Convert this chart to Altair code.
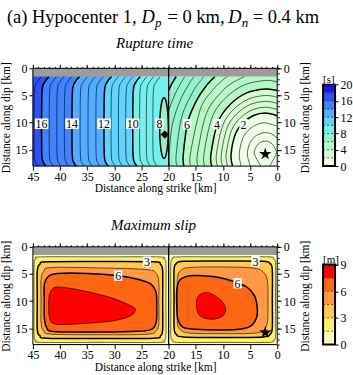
import altair as alt
import pandas as pd

FONT = "Liberation Serif"
W, H = 245, 98
P1 = (32, 67)    # image position of top panel view (for annotations)
P2 = (32, 248)   # image position of bottom panel view
CB_LEFT = 323 - 32   # colour bar left edge, relative to the panel view
CB_W = 12
STAR_PATH = ("M0,-1L0.225,-0.309L0.951,-0.309L0.363,0.118L0.588,0.809L0,0.382"
             "L-0.588,0.809L-0.363,0.118L-0.951,-0.309L-0.225,-0.309Z")

# ---------------- data ----------------
RT_EDGES = [0, 2, 4, 6, 8, 10, 12, 14, 16, 18, 20]
RT_COLORS = ["#f0ffe8", "#d6fcd2", "#b6f8c6", "#94f2cc", "#76f0ec",
             "#62d4fc", "#52acff", "#4282ff", "#3050f5", "#1818e8"]
SLIP_EDGES = [0, 1.5, 3, 4.5, 6, 7.5, 9]
SLIP_COLORS = ["#ffffc0", "#fff06a", "#ffc855", "#ff9945", "#ff6614", "#ff0000"]

HYPO = (2.2, 15.8)      # star (strike km, dip km)
JUMP = (20.7, 12.2)     # diamond
SEG_X = 20
FAULT_TOP = 1.5

RT_LEFT_DIPS = [1.5, 2.5, 4.0, 10.0, 16.0, 17.4, 18.0]
RT_LEFT = {
    8.5: [21.5, 22.3, 22.8, 22.9, 22.85, 22.55, 22.1],
    9.0: [22.7, 23.5, 24.0, 24.1, 24.05, 23.75, 23.3],
    9.5: [23.95, 24.75, 25.25, 25.35, 25.3, 25.0, 24.55],
    10.0: [25.2, 26.0, 26.5, 26.6, 26.55, 26.25, 25.8],
    10.5: [26.5, 27.3, 27.8, 27.9, 27.85, 27.55, 27.1],
    11.0: [27.85, 28.65, 29.15, 29.25, 29.2, 28.9, 28.45],
    11.5: [29.2, 30.0, 30.5, 30.6, 30.55, 30.25, 29.8],
    12.0: [30.5, 31.3, 31.8, 31.9, 31.85, 31.55, 31.1],
    12.5: [32.0, 32.8, 33.3, 33.4, 33.35, 33.05, 32.6],
    13.0: [33.45, 34.25, 34.75, 34.85, 34.8, 34.5, 34.05],
    13.5: [34.9, 35.7, 36.2, 36.3, 36.25, 35.95, 35.5],
    14.0: [36.4, 37.2, 37.7, 37.8, 37.75, 37.45, 37.0],
    14.5: [37.8, 38.6, 39.1, 39.2, 39.15, 38.85, 38.4],
    15.0: [39.2, 40.0, 40.5, 40.6, 40.55, 40.25, 39.8],
    15.5: [40.6, 41.4, 41.9, 42.0, 41.95, 41.65, 41.2],
    16.0: [42.0, 42.8, 43.3, 43.4, 43.35, 43.05, 42.6],
    16.5: [43.4, 44.2, 44.7, 44.8, 44.75, 44.45, 44.0],
}
RT_LOOP_8 = [(21.65, 11.0), (21.54, 13.8), (21.25, 15.85), (20.85, 16.6), (20.45, 15.85),
             (20.16, 13.8), (20.05, 11.0), (20.16, 8.2), (20.45, 6.15), (20.85, 5.4),
             (21.25, 6.15), (21.54, 8.2)]
RT_RIGHT = {
    0.5: [(3.0, 18), (4.2, 15.8), (3.93, 14.6), (3.49, 13.96), (2.88, 13.54), (2.2, 13.4),
          (1.52, 13.54), (0.91, 13.96), (0.47, 14.6), (0.2, 15.8), (1.4, 18)],
    1.0: [(4.94, 18), (5.5, 15.8), (5.06, 13.82), (4.32, 12.77), (3.33, 12.08), (2.2, 11.84),
          (1.07, 12.08), (0, 12.85)],
    1.5: [(6.64, 18), (7.0, 15.8), (6.36, 12.92), (5.29, 11.39), (3.84, 10.39), (2.2, 10.04), (0, 10.68)],
    2.0: [(8.23, 18), (8.5, 15.8), (7.66, 12.02), (6.25, 10.01), (4.35, 8.69), (2.2, 8.24), (0, 8.72)],
    2.5: [(9.16, 18), (9.4, 15.8), (8.44, 11.48), (6.83, 9.18), (4.66, 7.68), (2.2, 7.16), (0, 7.57)],
    3.0: [(10.09, 18), (10.3, 15.8), (9.21, 10.94), (7.41, 8.35), (4.97, 6.66), (2.2, 6.08), (0, 6.45)],
    3.5: [(11.01, 18), (11.2, 15.8), (9.99, 10.4), (7.99, 7.53), (5.28, 5.65), (2.2, 5.0), (0, 5.33)],
    4.0: [(12.03, 18), (12.2, 15.8), (10.86, 9.8), (8.63, 6.61), (5.62, 4.52), (2.2, 3.8), (0, 4.09)],
    4.5: [(13.35, 18), (13.5, 15.8), (11.99, 9.02), (9.47, 5.41), (6.06, 3.05), (2.2, 2.24), (0, 2.5)],
    5.0: [(14.56, 18), (14.7, 15.8), (13.03, 8.3), (10.24, 4.31), (8.06, 2.55), (5.97, 1.5)],
    5.5: [(15.88, 18), (16.0, 15.8), (14.15, 7.52), (11.96, 4.09), (10.12, 2.24), (9.16, 1.5)],
    6.0: [(17.19, 18), (17.3, 15.8), (16.39, 9.6), (14.57, 5.4), (12.88, 2.99), (11.47, 1.5)],
    6.5: [(18.5, 18), (18.6, 15.8), (17.62, 9.07), (15.63, 4.5), (14.39, 2.63), (13.47, 1.5)],
    7.0: [(19.8, 18), (19.9, 15.8), (19.3, 10.3), (17.83, 5.84), (16.15, 2.72), (15.29, 1.5)],
    7.5: [(20, 7.84), (19.4, 6.16), (18.65, 4.4), (17.76, 2.71), (17.0, 1.5)],
    8.0: [(20, 4.1), (19.4, 2.8), (18.6, 1.5)],
}
RT_LABELS = [("16", 43.4, 10.2), ("14", 37.8, 10.2), ("12", 31.9, 10.2), ("10", 26.6, 10.2),
             ("8", 21.7, 10.2), ("6", 16.6, 10.3), ("4", 11.1, 10.3), ("2", 6.2, 10.3)]

SLIP_LEFT = {
    1.5: [(44.8, 3.2), (44.4, 2.2), (43.5, 1.85), (32.5, 1.85), (21.8, 1.85), (20.9, 2.2), (20.5, 3.2),
          (20.5, 10.0), (20.5, 16.3), (20.9, 17.2), (21.8, 17.6), (32.5, 17.6), (43.5, 17.6),
          (44.4, 17.2), (44.8, 16.3), (44.8, 10.0)],
    3.0: [(44.2, 4.5), (43.7, 3.2), (42.4, 2.75), (32.5, 2.7), (22.8, 2.75), (21.5, 3.2), (21.1, 4.5),
          (21.1, 10.0), (21.1, 15.2), (21.5, 16.4), (22.8, 16.85), (32.5, 16.9), (42.4, 16.85),
          (43.7, 16.4), (44.2, 15.2), (44.2, 10.0)],
    4.5: [(43.5, 6.0), (43.0, 4.5), (41.5, 3.8), (32.0, 3.9), (24.0, 4.2), (22.3, 4.9), (21.8, 6.5),
          (21.8, 10.0), (21.8, 14.0), (22.3, 15.5), (24.0, 16.1), (32.0, 16.2), (41.5, 16.1),
          (43.0, 15.5), (43.5, 14.0), (43.5, 10.0)],
    6.0: [(42.9, 7.0), (42.2, 5.5), (40.5, 4.9), (35.0, 4.9), (29.5, 5.3), (25.5, 6.0), (23.2, 6.9),
          (22.3, 8.5), (22.2, 11.0), (22.3, 13.9), (23.4, 15.3), (27.0, 15.6), (35.0, 15.7),
          (41.3, 15.6), (42.5, 14.8), (42.9, 13.0), (42.9, 10.0)],
    7.5: [(42.1, 10.8), (41.9, 8.6), (40.9, 7.45), (38.5, 7.6), (35.7, 8.1), (30.8, 9.3), (27.1, 10.8),
          (26.1, 11.6), (27.0, 12.7), (29.5, 13.5), (32.6, 13.9), (38.7, 14.3), (41.3, 14.1),
          (42.0, 12.8)],
}
SLIP_RIGHT = {
    1.5: [(19.6, 3.2), (19.2, 2.2), (18.3, 1.85), (10.0, 1.85), (1.6, 1.85), (0.7, 2.2), (0.3, 3.2),
          (0.3, 10.0), (0.3, 16.3), (0.7, 17.2), (1.6, 17.6), (10.0, 17.6), (18.3, 17.6),
          (19.2, 17.2), (19.6, 16.3), (19.6, 10.0)],
    3.0: [(19.0, 4.3), (18.6, 3.1), (17.3, 2.65), (10.0, 2.6), (2.6, 2.65), (1.3, 3.1), (0.9, 4.3),
          (0.9, 10.0), (0.9, 14.9), (1.3, 16.1), (2.6, 16.6), (10.0, 16.7), (17.3, 16.6),
          (18.6, 16.1), (19.0, 14.9), (19.0, 10.0)],
    4.5: [(18.4, 6.0), (17.8, 4.4), (16.0, 3.8), (10.0, 3.7), (4.5, 3.9), (2.6, 4.6), (1.8, 6.3),
          (1.7, 10.0), (1.8, 13.8), (2.5, 15.3), (4.2, 15.9), (10.0, 16.0), (16.0, 15.9),
          (17.8, 15.3), (18.4, 14.0), (18.4, 10.0)],
    6.0: [(18.5, 8.0), (18.0, 6.2), (16.5, 5.4), (14.8, 5.3), (11.0, 5.6), (8.0, 6.4), (5.6, 7.4),
          (4.2, 9.0), (3.7, 11.0), (3.8, 13.0), (4.9, 14.6), (7.0, 15.2), (10.5, 15.3), (15.0, 15.2),
          (17.4, 14.8), (18.3, 13.3), (18.5, 11.0)],
    7.5: [(13.0, 8.4), (11.5, 9.0), (10.2, 10.0), (9.5, 11.4), (10.0, 12.7), (11.5, 13.3),
          (13.2, 13.2), (14.5, 12.4), (14.9, 10.6), (14.5, 9.0)],
}
SLIP_LABELS = [("3", 24.0, 2.75), ("6", 29.3, 5.3), ("3", 4.0, 2.65), ("6", 7.3, 6.7)]

TITLE_PIECES = [("(a) Hypocenter 1,", 6, 22, 18.5, "normal"), ("D", 141, 22, 18.5, "italic"),
                ("p", 154.5, 26, 13, "italic"), ("= 0 km,", 167, 22, 18.5, "normal"),
                ("D", 228, 22, 18.5, "italic"), ("n", 241.5, 26, 13, "italic"),
                ("= 0.4 km", 252.5, 22, 18.5, "normal")]

# ---------------- helpers ----------------
XS = alt.Scale(domain=[45, 0], nice=False, zero=False)
YS = alt.Scale(domain=[18, 0], nice=False, zero=False)
ONE = pd.DataFrame({"k": [0]})


def X(f, axis=None):
    return alt.X(f, type="quantitative", scale=XS, axis=axis)


def Y(f, axis=None):
    return alt.Y(f, type="quantitative", scale=YS, axis=axis)


def rects(rows):
    df = pd.DataFrame(rows, columns=["x0", "x1", "y0", "y1", "c"])
    return alt.Chart(df).mark_rect(clip=True).encode(
        x=X("x0"), x2="x1", y=Y("y0"), y2="y1", color=alt.Color("c:N", scale=None))


def polys(list_of_pts, color, interp):
    rows = []
    for g, pts in enumerate(list_of_pts):
        for i, (x, y) in enumerate(pts):
            rows.append({"g": g, "i": i, "x": x, "y": y})
    return alt.Chart(pd.DataFrame(rows)).mark_line(
        fill=color, strokeOpacity=0, interpolate=interp, clip=True
    ).encode(x=X("x"), y=Y("y"), detail="g:N", order="i:Q")


def lines(curves, interp):
    rows = []
    for g, (pts, w) in enumerate(curves):
        for i, (x, y) in enumerate(pts):
            rows.append({"g": g, "i": i, "x": x, "y": y, "w": w})
    return alt.Chart(pd.DataFrame(rows)).mark_line(
        color="black", interpolate=interp, clip=True
    ).encode(x=X("x"), y=Y("y"), detail="g:N", order="i:Q",
             strokeWidth=alt.StrokeWidth("w:Q", scale=None))


def label_layers(labels):
    df = pd.DataFrame(labels, columns=["t", "x", "y"])
    out = []
    two = df[df["t"].str.len() == 2]
    one = df[df["t"].str.len() == 1]
    if len(two):
        out.append(alt.Chart(two).mark_point(shape="M-1.3,-1H1.3V1H-1.3Z", filled=True, color="white",
                                             opacity=1, size=110).encode(x=X("x"), y=Y("y")))
    if len(one):
        out.append(alt.Chart(one).mark_point(shape="M-0.8,-1H0.8V1H-0.8Z", filled=True, color="white",
                                             opacity=1, size=110).encode(x=X("x"), y=Y("y")))
    out.append(alt.Chart(df).mark_text(font=FONT, fontSize=12, color="black", baseline="middle", dy=0.5)
               .encode(x=X("x"), y=Y("y"), text="t:N"))
    return out


def text_at(txt, px, py, size, style, origin, align="left"):
    return alt.Chart(ONE).mark_text(text=txt, font=FONT, fontSize=size, fontStyle=style, align=align,
                                    baseline="alphabetic", color="black").encode(
        x=alt.value(px - origin[0]), y=alt.value(py - origin[1]))


COMMON_AX = dict(grid=False, domain=False, tickColor="black", labelColor="black", labelFont=FONT,
                 labelFontSize=12, titleFont=FONT, titleFontSize=11.5, titleFontWeight="normal",
                 titleColor="black", labelOverlap=False, labelFlush=False)
AX_DF = pd.DataFrame({"x": [0.0], "y": [0.0]})


def axis_layers():
    ax_b = alt.Axis(orient="bottom", values=list(range(0, 46, 5)), tickSize=4, labelPadding=1,
                    title="Distance along strike [km]", titlePadding=1, **COMMON_AX)
    ax_l = alt.Axis(orient="left", values=[0, 5, 10, 15], tickSize=4, labelPadding=2,
                    title="Distance along dip [km]", titlePadding=3, **COMMON_AX)
    ax_t = alt.Axis(orient="top", values=list(range(0, 46)), tickSize=2, labels=False, title=None, **COMMON_AX)
    ax_r = alt.Axis(orient="right", values=[0, 5, 10, 15], tickSize=4, labelPadding=2,
                    title="Distance along dip [km]", titleAngle=270, titleBaseline="top",
                    titlePadding=4, **COMMON_AX)
    ax_t2 = alt.Axis(orient="top", values=list(range(0, 46, 5)), tickSize=4, labels=False, title=None, **COMMON_AX)
    ax_r2 = alt.Axis(orient="right", values=list(range(0, 19)), tickSize=2, labels=False, title=None, **COMMON_AX)
    base = alt.Chart(AX_DF).mark_point(opacity=0)
    return [base.encode(x=X("x", ax_b), y=Y("y", ax_l)),
            base.encode(x=X("x", ax_t), y=Y("y", ax_r)),
            base.encode(x=X("x", ax_t2), y=Y("y", ax_r2))]


def frame_layers():
    gray = rects([(0, 45, 0, FAULT_TOP, "#9c9c9c")])
    seg = alt.Chart(pd.DataFrame({"x": [SEG_X], "y0": [0], "y1": [18]})).mark_rule(
        color="black", strokeWidth=1.3).encode(x=X("x"), y=Y("y0"), y2="y1")
    frame = alt.Chart(pd.DataFrame({"x0": [0], "x1": [45], "y0": [0], "y1": [18]})).mark_rect(
        filled=False, stroke="black", strokeWidth=1).encode(x=X("x0"), x2="x1", y=Y("y0"), y2="y1")
    return [gray, seg, frame]


def star():
    return alt.Chart(pd.DataFrame({"x": [HYPO[0]], "y": [HYPO[1]]})).mark_point(
        shape=STAR_PATH, filled=True, color="black", opacity=1, size=170).encode(x=X("x"), y=Y("y"))


def colorbar_layers(edges, colors, ticks, unit, dmax):
    cs = alt.Scale(domain=[0, dmax], nice=False, zero=False)
    df = pd.DataFrame({"lo": edges[:-1], "hi": edges[1:], "c": colors})
    ax = alt.Axis(orient="right", values=ticks, tickSize=3, labelPadding=2, title=None, format="~g",
                  offset=CB_LEFT + CB_W - W,
                  **{k: v for k, v in COMMON_AX.items() if not k.startswith("title")})
    bars = alt.Chart(df).mark_rect().encode(
        x=alt.value(CB_LEFT), x2=alt.value(CB_LEFT + CB_W), y=alt.Y("lo:Q", scale=cs, axis=ax), y2="hi:Q",
        color=alt.Color("c:N", scale=None))
    dashes = alt.Chart(pd.DataFrame({"b": edges[1:-1]})).mark_rule(
        color="black", strokeDash=[2, 2], strokeWidth=0.6).encode(
        x=alt.value(CB_LEFT), x2=alt.value(CB_LEFT + CB_W), y=alt.Y("b:Q", scale=cs, axis=None))
    border = alt.Chart(pd.DataFrame({"lo": [0], "hi": [edges[-1]]})).mark_rect(
        filled=False, stroke="black", strokeWidth=2).encode(
        x=alt.value(CB_LEFT), x2=alt.value(CB_LEFT + CB_W), y=alt.Y("lo:Q", scale=cs, axis=None), y2="hi:Q")
    top_px = H - H * edges[-1] / dmax
    unit_t = alt.Chart(ONE).mark_text(text=unit, font=FONT, fontSize=11, align="left",
                                      baseline="alphabetic", color="black").encode(
        x=alt.value(CB_LEFT), y=alt.value(top_px - 2))
    return [bars, dashes, border, unit_t]


# ---------------- rupture time panel ----------------
def left_region(xs):
    pts = list(zip(xs, RT_LEFT_DIPS))
    return pts + [(xs[-1], 19.0), (46.0, 19.0), (46.0, 1.0), (xs[0], 1.0)]


def right_region(pts):
    xe, ye = pts[-1]
    if ye <= FAULT_TOP + 1e-9:
        extra = [(xe - 0.6, 1.0), (-1.0, 1.0), (-1.0, 19.0), (pts[0][0], 19.0)]
    else:
        extra = [(-1.0, ye), (-1.0, 19.0), (pts[0][0], 19.0)]
    return pts + extra


rt_layers = axis_layers()
rt_layers.append(rects([(SEG_X, 45, FAULT_TOP, 18, RT_COLORS[4]), (0, SEG_X, FAULT_TOP, 18, RT_COLORS[3])]))
rt_layers.append(polys([RT_LOOP_8], RT_COLORS[3], "cardinal-closed"))
for lvl, ci in [(10.0, 5), (12.0, 6), (14.0, 7), (16.0, 8)]:
    rt_layers.append(polys([left_region(RT_LEFT[lvl])], RT_COLORS[ci], "cardinal"))
rt_layers.append(polys([RT_RIGHT[8.0] + [(18.4, 1.0), (20.0, 1.0)]], RT_COLORS[4], "cardinal"))
for lvl, ci in [(6.0, 2), (4.0, 1), (2.0, 0)]:
    rt_layers.append(polys([right_region(RT_RIGHT[lvl])], RT_COLORS[ci], "cardinal"))

THIN, THICK = 0.6, 1.5
curves = [(list(zip(xs, RT_LEFT_DIPS)), THICK if lvl % 2 == 0 else THIN) for lvl, xs in RT_LEFT.items()]
curves += [(pts, THICK if lvl % 2 == 0 else THIN) for lvl, pts in RT_RIGHT.items()]
rt_layers.append(lines(curves, "cardinal"))
rt_layers.append(lines([(RT_LOOP_8, THICK)], "cardinal-closed"))
rt_layers += label_layers(RT_LABELS)
rt_layers += frame_layers()
rt_layers.append(star())
rt_layers.append(alt.Chart(pd.DataFrame({"x": [JUMP[0]], "y": [JUMP[1]]})).mark_point(
    shape="diamond", filled=True, color="black", opacity=1, size=70).encode(x=X("x"), y=Y("y")))
for txt, px, py, sz, st in TITLE_PIECES:
    rt_layers.append(text_at(txt, px, py, sz, st, P1))
rt_layers.append(text_at("Rupture time", 154, 47, 15, "italic", P1, align="center"))
rt_layers += colorbar_layers(RT_EDGES, RT_COLORS, [0, 4, 8, 12, 16, 20], "[s]", 24.0)

panel_rt = alt.layer(*rt_layers).resolve_scale(y="independent").resolve_axis(
    x="independent", y="independent").properties(width=W, height=H)

# ---------------- slip panel ----------------
sl_layers = axis_layers()
sl_layers.append(rects([(SEG_X, 45, FAULT_TOP, 18, SLIP_COLORS[0]), (0, SEG_X, FAULT_TOP, 18, SLIP_COLORS[0])]))
for k, lvl in enumerate([1.5, 3.0, 4.5, 6.0, 7.5]):
    sl_layers.append(polys([SLIP_LEFT[lvl], SLIP_RIGHT[lvl]], SLIP_COLORS[k + 1], "cardinal-closed"))
sl_curves = []
for lvl in [1.5, 3.0, 4.5, 6.0, 7.5]:
    w = THICK if lvl in (3.0, 6.0) else THIN
    sl_curves += [(SLIP_LEFT[lvl], w), (SLIP_RIGHT[lvl], w)]
sl_layers.append(lines(sl_curves, "cardinal-closed"))
sl_layers += label_layers(SLIP_LABELS)
sl_layers += frame_layers()
sl_layers.append(star())
sl_layers.append(text_at("Maximum slip", 153, 231, 15, "italic", P2, align="center"))
sl_layers += colorbar_layers(SLIP_EDGES, SLIP_COLORS, [0, 3, 6, 9], "[m]", 11.0)

panel_sl = alt.layer(*sl_layers).resolve_scale(y="independent").resolve_axis(
    x="independent", y="independent").properties(width=W, height=H)

chart = alt.vconcat(panel_rt, panel_sl, spacing=22).properties(
    padding={"left": 0, "top": 7, "right": 0, "bottom": 0}
).configure_view(strokeWidth=0).configure(background="white")

chart.save("out.html", embed_options={"renderer": "svg", "actions": False})
